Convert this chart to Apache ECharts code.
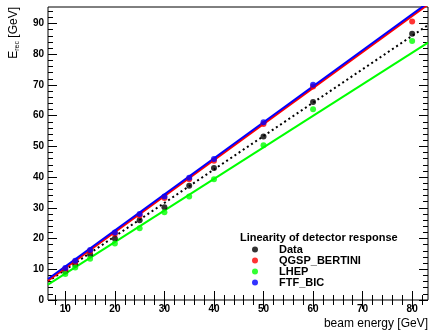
<!DOCTYPE html>
<html>
<head>
<meta charset="utf-8">
<script src="https://cdn.jsdelivr.net/npm/echarts@6/dist/echarts.min.js"></script>
<style>
html,body{margin:0;padding:0;background:#fff;}
#chart{width:431px;height:332px;}
</style>
</head>
<body>
<div id="chart"></div>
<script>
// ---- data ----
const beamEnergy = [10, 12, 15, 20, 25, 30, 35, 40, 50, 60, 80];
const dataValues = [9.3, 11.5, 14.8, 20.0, 26.0, 30.2, 37.2, 43.0, 53.2, 64.5, 86.7];
const bertiniValues = [10.0, 12.4, 15.9, 21.6, 27.5, 33.2, 39.3, 45.3, 57.3, 69.5, 90.7];
const lhepValues = [8.5, 10.6, 13.4, 18.4, 23.4, 28.6, 33.7, 39.3, 50.4, 62.1, 84.3];
const ftfEnergy = [10, 12, 15, 20, 25, 30, 35, 40, 50, 60];
const ftfValues = [10.4, 12.8, 16.3, 22.0, 28.0, 33.7, 39.8, 45.9, 57.9, 70.1];

// fit lines: values at the two ends of the x range
const fitX = [6.5, 83.2];
const dataFit = [6.05, 89.5];
const bertiniFit = [6.3, 96.2];
const lhepFit = [5.0, 83.8];
const ftfFit = [6.85, 96.8];

const xMajorTicks = [10, 20, 30, 40, 50, 60, 70, 80];
const xMinorTicks = [8, 12, 14, 16, 18, 22, 24, 26, 28, 32, 34, 36, 38, 42, 44, 46, 48, 52, 54, 56, 58, 62, 64, 66, 68, 72, 74, 76, 78, 82];
const yMajorTicks = [0, 10, 20, 30, 40, 50, 60, 70, 80, 90];
const yMinorTicks = [2, 4, 6, 8, 12, 14, 16, 18, 22, 24, 26, 28, 32, 34, 36, 38, 42, 44, 46, 48, 52, 54, 56, 58, 62, 64, 66, 68, 72, 74, 76, 78, 82, 84, 86, 88, 92, 94];

const seriesNames = ['Data', 'QGSP_BERTINI', 'LHEP', 'FTF_BIC'];
const legendTitle = 'Linearity of detector response';
const xTitle = 'beam energy [GeV]';

// ---- chart ----
const X_MIN = 6.5, X_MAX = 83.2, Y_MIN = 0, Y_MAX = 95.4;
const FONT = '"Liberation Sans", Arial, Helvetica, sans-serif';

function pairs(xs, ys) { return xs.map((x, i) => [x, ys[i]]); }

function xAxisDef(pos, ticks, len, labels) {
  return {
    type: 'value', position: pos, min: X_MIN, max: X_MAX,
    axisLine: { show: false },
    splitLine: { show: false },
    axisTick: { show: true, inside: true, length: len, customValues: ticks, lineStyle: { color: '#000', width: 1 } },
    axisLabel: labels ? { show: true, customValues: ticks, margin: 4, color: '#000', fontFamily: FONT, fontWeight: 'bold', fontSize: 10 } : { show: false }
  };
}
function yAxisDef(pos, ticks, len, labels) {
  return {
    type: 'value', position: pos, min: Y_MIN, max: Y_MAX,
    axisLine: { show: false },
    splitLine: { show: false },
    axisTick: { show: true, inside: true, length: len, customValues: ticks, lineStyle: { color: '#000', width: 1 } },
    axisLabel: labels ? { show: true, customValues: ticks, margin: 4, color: '#000', fontFamily: FONT, fontWeight: 'bold', fontSize: 10 } : { show: false }
  };
}

const colors = ['#000000', '#ff0000', '#00ff00', '#0000ff'];

function fitSeries(name, ys, color, dashed) {
  return {
    type: 'line', name: name, data: pairs(fitX, ys), xAxisIndex: 0, yAxisIndex: 0,
    showSymbol: false, symbol: 'none', clip: true, silent: true,
    lineStyle: { color: color, width: 2, type: dashed ? [2, 3] : 'solid' },
    z: 2
  };
}
function pointSeries(name, xs, ys, color) {
  return {
    type: 'scatter', name: name, data: pairs(xs, ys), xAxisIndex: 0, yAxisIndex: 0,
    symbol: 'circle', symbolSize: 6, clip: true,
    itemStyle: { color: color },
    z: 3
  };
}

const chart = echarts.init(document.getElementById('chart'), null, { renderer: 'canvas' });
chart.setOption({
  animation: false,
  backgroundColor: '#ffffff',
  grid: { left: 48, right: 3, top: 7, bottom: 32, show: true, borderColor: '#000', borderWidth: 1, backgroundColor: 'transparent' },
  xAxis: [
    xAxisDef('bottom', xMajorTicks, 9, true),
    xAxisDef('bottom', xMinorTicks, 5, false),
    xAxisDef('top', xMajorTicks, 9, false),
    xAxisDef('top', xMinorTicks, 5, false)
  ],
  yAxis: [
    yAxisDef('left', yMajorTicks, 9, true),
    yAxisDef('left', yMinorTicks, 5, false),
    yAxisDef('right', yMajorTicks, 9, false),
    yAxisDef('right', yMinorTicks, 5, false)
  ],
  legend: {
    data: seriesNames,
    orient: 'vertical',
    left: 252, top: 244,
    icon: 'circle',
    itemWidth: 6, itemHeight: 6, itemGap: 0,
    padding: 0,
    selectedMode: false,
    textStyle: { color: '#000', fontFamily: FONT, fontWeight: 'bold', fontSize: 11, lineHeight: 10, padding: [0, 0, 0, 16] }
  },
  graphic: [
    { type: 'text', left: 240, top: 232, style: { text: legendTitle, fill: '#000', font: 'bold 11px ' + FONT } },
    { type: 'text', right: 3, top: 318, style: { text: xTitle, fill: '#000', font: '12px ' + FONT } },
    {
      type: 'text', x: 14, y: 7, rotation: Math.PI / 2,
      style: {
        text: '{a|E}{b|rec}{a| [GeV]}', align: 'right', verticalAlign: 'middle', fill: '#000',
        rich: {
          a: { fontFamily: FONT, fontSize: 12, fill: '#000', lineHeight: 14, verticalAlign: 'middle' },
          b: { fontFamily: FONT, fontSize: 7, fill: '#000', lineHeight: 14, verticalAlign: 'bottom', padding: [6, 0, 0, 0] }
        }
      }
    }
  ],
  series: [
    fitSeries('fit_Data', dataFit, colors[0], true),
    fitSeries('fit_LHEP', lhepFit, colors[2], false),
    fitSeries('fit_QGSP_BERTINI', bertiniFit, colors[1], false),
    fitSeries('fit_FTF_BIC', ftfFit, colors[3], false),
    pointSeries(seriesNames[0], beamEnergy, dataValues, colors[0]),
    pointSeries(seriesNames[1], beamEnergy, bertiniValues, colors[1]),
    pointSeries(seriesNames[2], beamEnergy, lhepValues, colors[2]),
    pointSeries(seriesNames[3], ftfEnergy, ftfValues, colors[3])
  ]
});
</script>
</body>
</html>
